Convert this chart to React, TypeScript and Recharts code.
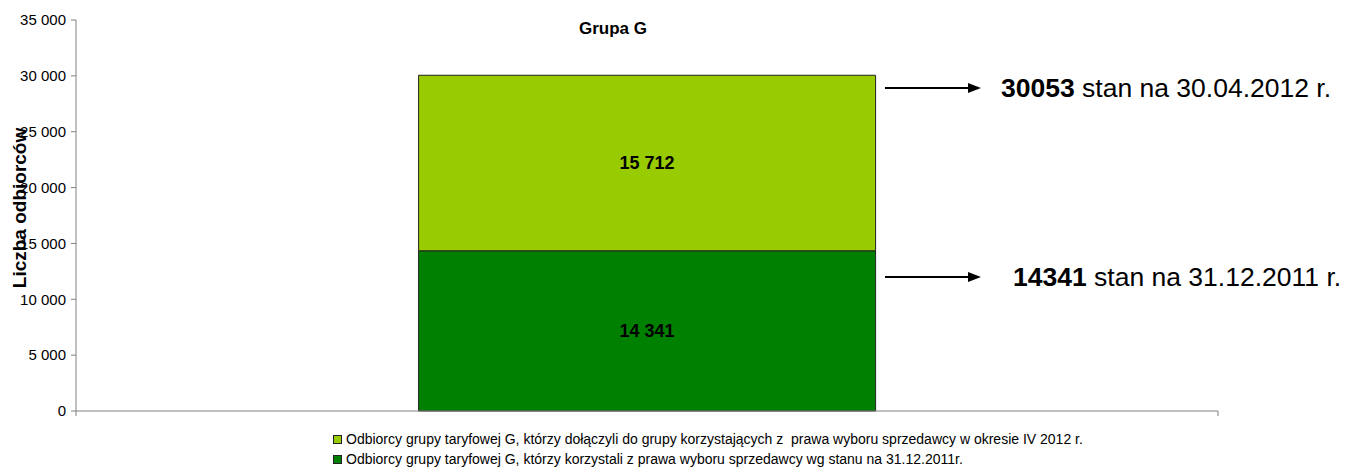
import { BarChart, Bar, XAxis, YAxis, LabelList } from 'recharts';

const categories = ['Grupa G'];
const stan2011 = [14341];
const dolaczyli2012 = [15712];
const yTicks = [0, 5000, 10000, 15000, 20000, 25000, 30000, 35000];

const SERIES = [
    { key: 'stan2011', name: 'Odbiorcy grupy taryfowej G, którzy korzystali z prawa wyboru sprzedawcy wg stanu na 31.12.2011r.', color: '#008000' },
    { key: 'dolaczyli', name: 'Odbiorcy grupy taryfowej G, którzy dołączyli do grupy korzystających z\u00a0 prawa wyboru sprzedawcy w okresie IV 2012 r.', color: '#99cc00' },
];

const data = categories.map((name, i) => ({
    name,
    stan2011: stan2011[i],
    dolaczyli: dolaczyli2012[i],
}));

const FONT = '"Liberation Sans", Arial, sans-serif';

const fmt = (v: number) => String(v).replace(/\B(?=(\d{3})+(?!\d))/g, ' ');

const LegendBox = () => (
    <div style={{ position: 'absolute', left: 333, top: 429, fontFamily: FONT, fontSize: 14, color: '#000', lineHeight: '20px' }}>
        {[...SERIES].reverse().map((s) => (
            <div key={s.key} style={{ display: 'flex', alignItems: 'center', whiteSpace: 'pre' }}>
                <span style={{ display: 'inline-block', width: 7, height: 7, background: s.color, border: '1px solid #222', marginRight: 4 }} />
                <span>{s.name}</span>
            </div>
        ))}
    </div>
);

export default function App() {
    return (
        <div style={{ position: 'absolute', left: 0, top: 0, width: 1349, height: 470, background: '#fff' }}>
            <BarChart
                width={1349}
                height={470}
                data={data}
                barCategoryGap="30%"
                margin={{ top: 20, right: 131, left: 0, bottom: 58 }}
            >
                <XAxis dataKey="name" height={1} tick={false} tickLine={false} axisLine={{ stroke: '#808080' }} />
                <YAxis
                    width={76}
                    domain={[0, 35000]}
                    ticks={yTicks}
                    tickFormatter={fmt}
                    tickSize={5}
                    tickMargin={5}
                    interval={0}
                    axisLine={{ stroke: '#808080' }}
                    tickLine={{ stroke: '#808080' }}
                    tick={{ fill: '#000', fontSize: 15, fontFamily: FONT }}
                />
                {SERIES.map((s) => (
                    <Bar key={s.key} dataKey={s.key} name={s.name} stackId="a" fill={s.color} stroke="#222" strokeWidth={1} isAnimationActive={false}>
                        <LabelList dataKey={s.key} position="center" formatter={(v: any) => fmt(v)} fill="#000" fontSize={18} fontWeight="bold" fontFamily={FONT} />
                    </Bar>
                ))}
            </BarChart>
            <LegendBox />
            <svg width={1349} height={470} style={{ position: 'absolute', left: 0, top: 0, pointerEvents: 'none' }} fontFamily={FONT}>
                <line x1={76} y1={411} x2={76} y2={416} stroke="#808080" />
                <line x1={1218} y1={411} x2={1218} y2={416} stroke="#808080" />
                <text x={613} y={34} textAnchor="middle" fontSize={17} fontWeight="bold" fill="#000">Grupa G</text>
                <text transform="translate(26,208) rotate(-90)" textAnchor="middle" fontSize={19} fontWeight="bold" fill="#000">Liczba odbiorców</text>
                <line x1={885} y1={88} x2={970} y2={88} stroke="#000" strokeWidth={2} />
                <polygon points="968,83 981,88 968,93" fill="#000" />
                <text x={1001} y={97} fontSize={26.5} fill="#000"><tspan fontWeight="bold">30053</tspan> stan na 30.04.2012 r.</text>
                <line x1={885} y1={277} x2={970} y2={277} stroke="#000" strokeWidth={2} />
                <polygon points="968,272 981,277 968,282" fill="#000" />
                <text x={1013} y={286} fontSize={26.5} fill="#000"><tspan fontWeight="bold">14341</tspan> stan na 31.12.2011 r.</text>
            </svg>
        </div>
    );
}
